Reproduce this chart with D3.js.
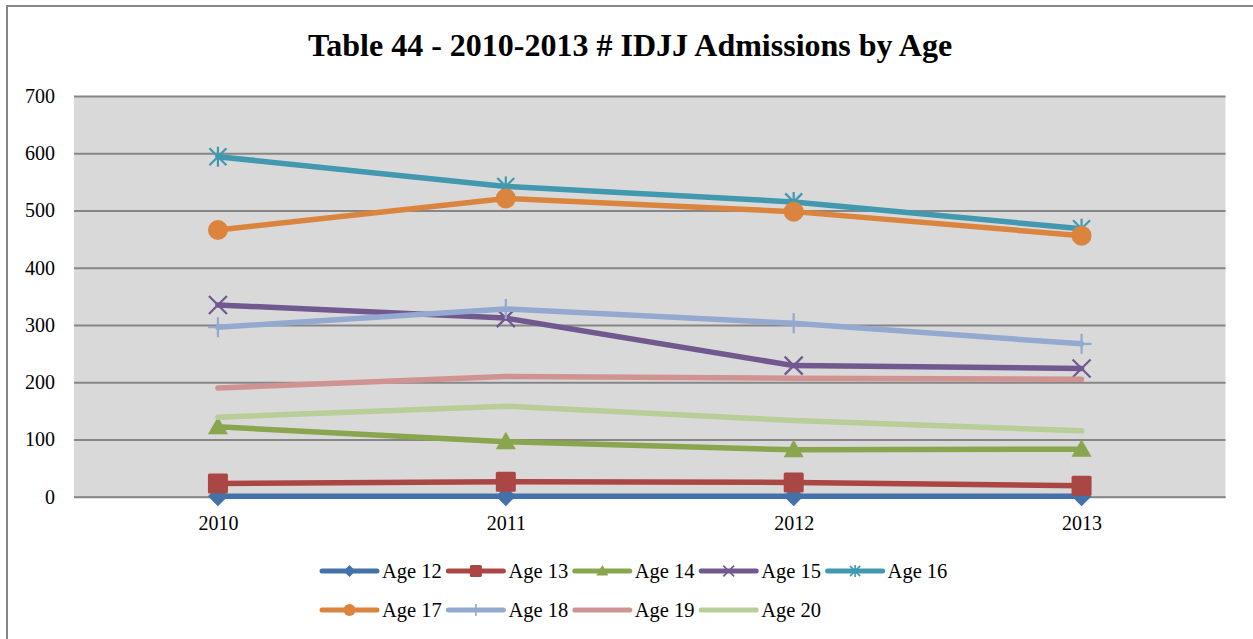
<!DOCTYPE html>
<html>
<head>
<meta charset="utf-8">
<script src="https://cdn.jsdelivr.net/npm/d3@7"></script>
<style>
  html, body { margin: 0; padding: 0; background: #fff; }
  svg { display: block; font-family: "Liberation Serif", "Times New Roman", serif; }
</style>
</head>
<body>
<svg id="chart" width="1253" height="639"></svg>
<script>
// Admissions by age, 2010-2013
const years = ["2010", "2011", "2012", "2013"];
const seriesNames = ["Age 12", "Age 13", "Age 14", "Age 15", "Age 16", "Age 17", "Age 18", "Age 19", "Age 20"];
const age12 = [1, 1, 1, 1];
const age13 = [23, 26, 25, 19];
const age14 = [122, 96, 82, 83];
const age15 = [335, 312, 229, 224];
const age16 = [594, 542, 515, 468];
const age17 = [466, 521, 498, 456];
const age18 = [296, 328, 303, 267];
const age19 = [190, 210, 207, 205];
const age20 = [139, 158, 133, 115];
const yTicks = [0, 100, 200, 300, 400, 500, 600, 700];
const seriesValues = [age12, age13, age14, age15, age16, age17, age18, age19, age20];

const colors = ["#4472A8", "#AA4643", "#89A54E", "#71588F", "#4198AF", "#DB843D", "#93A9CF", "#D19392", "#B9CD96"];
const markers = ["diamond", "square", "triangle", "x", "star", "circle", "plus", "none", "none"];

const svg = d3.select("#chart");

// outer chart frame
svg.append("rect")
  .attr("x", 7).attr("y", 6)
  .attr("width", 1300).attr("height", 700)
  .attr("fill", "#fff").attr("stroke", "#868686").attr("stroke-width", 2);

const plot = { left: 74, right: 1225.5, top: 96, bottom: 496.7 };

const x = d3.scalePoint().domain(years).range([plot.left, plot.right]).padding(0.5);
const y = d3.scaleLinear().domain([0, 700]).range([plot.bottom, plot.top]);

// title
svg.append("text")
  .attr("x", 630).attr("y", 56)
  .attr("text-anchor", "middle")
  .attr("font-size", 32).attr("font-weight", "bold")
  .attr("fill", "#000")
  .text("Table 44 - 2010-2013 # IDJJ Admissions by Age");

// plot background
svg.append("rect")
  .attr("x", plot.left).attr("y", plot.top)
  .attr("width", plot.right - plot.left).attr("height", plot.bottom - plot.top)
  .attr("fill", "#D9D9D9");

// gridlines and y tick labels
const yAxis = d3.axisLeft(y).tickValues(yTicks).tickSize(-(plot.right - plot.left)).tickPadding(19).tickFormat(d3.format("d"));
const gy = svg.append("g").attr("transform", `translate(${plot.left},0)`).call(yAxis);
gy.select(".domain").remove();
gy.selectAll(".tick line").attr("stroke", "#868686").attr("stroke-width", 2);
gy.selectAll(".tick text").attr("font-size", 20).attr("fill", "#000")
  .attr("font-family", "Liberation Serif, Times New Roman, serif");

// x axis labels
const xAxis = d3.axisBottom(x).tickSize(0).tickPadding(19);
const gx = svg.append("g").attr("transform", `translate(0,${plot.bottom})`).call(xAxis);
gx.select(".domain").remove();
gx.selectAll(".tick text").attr("font-size", 20).attr("fill", "#000")
  .attr("font-family", "Liberation Serif, Times New Roman, serif");

// marker drawing
function drawMarker(g, type, cx, cy, size, color) {
  const h = size / 2;
  const sw = size > 14 ? 2.2 : 1.6;
  if (type === "diamond") {
    g.append("path").attr("d", `M${cx},${cy - h}L${cx + h},${cy}L${cx},${cy + h}L${cx - h},${cy}Z`).attr("fill", color);
  } else if (type === "square") {
    g.append("rect").attr("x", cx - h).attr("y", cy - h).attr("width", size).attr("height", size).attr("rx", 1.5).attr("fill", color);
  } else if (type === "triangle") {
    g.append("path").attr("d", `M${cx},${cy - h}L${cx + h},${cy + h * 0.75}L${cx - h},${cy + h * 0.75}Z`).attr("fill", color);
  } else if (type === "circle") {
    g.append("circle").attr("cx", cx).attr("cy", cy).attr("r", h).attr("fill", color);
  } else if (type === "x") {
    const k = h * 0.9;
    g.append("path").attr("d", `M${cx - k},${cy - k}L${cx + k},${cy + k}M${cx - k},${cy + k}L${cx + k},${cy - k}`)
      .attr("stroke", color).attr("stroke-width", sw).attr("fill", "none");
  } else if (type === "star") {
    const k = h * 0.85;
    g.append("path").attr("d", `M${cx},${cy - h}L${cx},${cy + h}M${cx - k},${cy - k}L${cx + k},${cy + k}M${cx - k},${cy + k}L${cx + k},${cy - k}`)
      .attr("stroke", color).attr("stroke-width", sw).attr("fill", "none");
  } else if (type === "plus") {
    g.append("path").attr("d", `M${cx},${cy - h}L${cx},${cy + h}M${cx - h},${cy}L${cx + h},${cy}`)
      .attr("stroke", color).attr("stroke-width", sw).attr("fill", "none");
  }
}

const line = d3.line().x((d, i) => x(years[i])).y(d => y(d));

// series, drawn in order so later ones sit on top
seriesValues.forEach((vals, si) => {
  const g = svg.append("g");
  g.append("path")
    .attr("d", line(vals))
    .attr("fill", "none")
    .attr("stroke", colors[si])
    .attr("stroke-width", 5.5)
    .attr("stroke-linejoin", "round")
    .attr("stroke-linecap", "round");
  vals.forEach((v, i) => {
    drawMarker(g, markers[si], x(years[i]), y(v), 20, colors[si]);
  });
});

// bottom axis line, under the series
svg.append("line")
  .attr("x1", plot.left).attr("x2", plot.right)
  .attr("y1", plot.bottom).attr("y2", plot.bottom)
  .attr("stroke", "#868686").attr("stroke-width", 2)
  .lower();
svg.select("rect").lower();

// legend: two rows
const legendItems = seriesNames.map((name, i) => ({
  name, i,
  row: i < 5 ? 0 : 1,
  col: i < 5 ? i : i - 5
}));
const legend = svg.append("g");
legendItems.forEach(d => {
  const lx = 322 + d.col * 126.4;
  const ly = d.row === 0 ? 571 : 610;
  const g = legend.append("g");
  g.append("line")
    .attr("x1", lx).attr("x2", lx + 55)
    .attr("y1", ly).attr("y2", ly)
    .attr("stroke", colors[d.i]).attr("stroke-width", 5).attr("stroke-linecap", "round");
  drawMarker(g, markers[d.i], lx + 27.5, ly, 12, colors[d.i]);
  g.append("text")
    .attr("x", lx + 60).attr("y", ly + 7)
    .attr("font-size", 20.5).attr("fill", "#000")
    .text(d.name);
});
</script>
</body>
</html>
